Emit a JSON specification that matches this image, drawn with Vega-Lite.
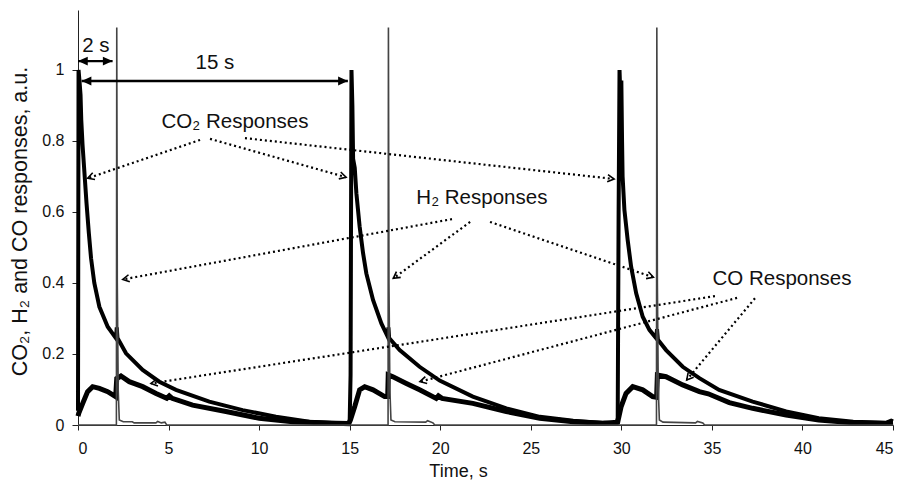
{
  "$schema": "https://vega.github.io/schema/vega-lite/v6.json",
  "width": 815,
  "height": 415,
  "autosize": {"type": "none"},
  "padding": {"left": 78, "top": 10, "right": 9, "bottom": 56},
  "background": "white",
  "config": {
    "view": {"stroke": null},
    "font": "Liberation Sans",
    "axis": {
      "grid": false,
      "domainColor": "#222",
      "tickColor": "#222",
      "labelColor": "#111",
      "titleColor": "#111",
      "labelFont": "Liberation Sans",
      "titleFont": "Liberation Sans",
      "labelFontSize": 16,
      "titleFontWeight": "normal"
    },
    "axisX": {"tickSize": 5, "labelPadding": 10, "titleFontSize": 18, "titleX": 380, "titleY": 51, "titleBaseline": "alphabetic", "titleAlign": "center", "titleAnchor": null},
    "axisY": {"tickSize": 6, "labelPadding": 8, "titleFontSize": 21.5, "titleX": -58, "titleY": 211, "titleAngle": -90, "titleBaseline": "middle", "titleAlign": "center", "titleAnchor": null}
  },
  "datasets": {
    "co2": [
      {"t": 0.0, "v": 0.04}, {"t": 0.03, "v": 1.0}, {"t": 0.08, "v": 0.97}, {"t": 0.14, "v": 0.93},
      {"t": 0.18, "v": 0.86}, {"t": 0.25, "v": 0.79}, {"t": 0.33, "v": 0.73}, {"t": 0.47, "v": 0.625},
      {"t": 0.6, "v": 0.54}, {"t": 0.72, "v": 0.47}, {"t": 0.9, "v": 0.4}, {"t": 1.18, "v": 0.333},
      {"t": 1.64, "v": 0.277}, {"t": 2.1, "v": 0.244}, {"t": 2.14, "v": 0.275}, {"t": 2.18, "v": 0.245},
      {"t": 2.65, "v": 0.202}, {"t": 3.57, "v": 0.155}, {"t": 4.49, "v": 0.122}, {"t": 5.41, "v": 0.099},
      {"t": 7.25, "v": 0.066}, {"t": 9.09, "v": 0.042}, {"t": 10.93, "v": 0.023}, {"t": 12.77, "v": 0.009},
      {"t": 14.25, "v": 0.005}, {"t": 14.95, "v": 0.004},
      {"t": 15.0, "v": 0.01}, {"t": 15.05, "v": 0.14}, {"t": 15.1, "v": 1.0}, {"t": 15.15, "v": 0.9},
      {"t": 15.19, "v": 0.75}, {"t": 15.28, "v": 0.725}, {"t": 15.37, "v": 0.653}, {"t": 15.55, "v": 0.559},
      {"t": 15.74, "v": 0.484}, {"t": 15.92, "v": 0.427}, {"t": 16.29, "v": 0.352}, {"t": 16.75, "v": 0.286},
      {"t": 17.1, "v": 0.249}, {"t": 17.14, "v": 0.275}, {"t": 17.18, "v": 0.245}, {"t": 17.76, "v": 0.211},
      {"t": 18.86, "v": 0.164}, {"t": 19.97, "v": 0.125}, {"t": 21.8, "v": 0.08}, {"t": 23.65, "v": 0.047},
      {"t": 25.5, "v": 0.023}, {"t": 27.34, "v": 0.012}, {"t": 29.0, "v": 0.006}, {"t": 29.75, "v": 0.005},
      {"t": 29.8, "v": 0.02}, {"t": 29.85, "v": 0.6}, {"t": 29.9, "v": 1.0}, {"t": 29.95, "v": 0.92},
      {"t": 30.0, "v": 0.97}, {"t": 30.04, "v": 0.8}, {"t": 30.07, "v": 0.7}, {"t": 30.17, "v": 0.606},
      {"t": 30.35, "v": 0.521}, {"t": 30.54, "v": 0.446}, {"t": 30.82, "v": 0.371}, {"t": 31.18, "v": 0.305},
      {"t": 31.55, "v": 0.268}, {"t": 31.93, "v": 0.244}, {"t": 31.97, "v": 0.27}, {"t": 32.02, "v": 0.24},
      {"t": 32.47, "v": 0.211}, {"t": 33.39, "v": 0.164}, {"t": 34.31, "v": 0.132}, {"t": 35.4, "v": 0.099},
      {"t": 37.25, "v": 0.066}, {"t": 39.1, "v": 0.038}, {"t": 40.9, "v": 0.019}, {"t": 42.8, "v": 0.009},
      {"t": 44.6, "v": 0.006}, {"t": 44.9, "v": 0.012}, {"t": 45.0, "v": 0.01}
    ],
    "co": [
      {"t": 0.0, "v": 0.025}, {"t": 0.04, "v": 0.033}, {"t": 0.26, "v": 0.061}, {"t": 0.53, "v": 0.094},
      {"t": 0.81, "v": 0.108}, {"t": 1.18, "v": 0.103}, {"t": 1.64, "v": 0.094}, {"t": 2.08, "v": 0.08},
      {"t": 2.14, "v": 0.131}, {"t": 2.37, "v": 0.138}, {"t": 2.83, "v": 0.122}, {"t": 3.57, "v": 0.108},
      {"t": 4.31, "v": 0.089}, {"t": 4.9, "v": 0.075}, {"t": 5.04, "v": 0.082}, {"t": 5.2, "v": 0.075},
      {"t": 6.33, "v": 0.056}, {"t": 8.17, "v": 0.038}, {"t": 10.01, "v": 0.019}, {"t": 11.85, "v": 0.009},
      {"t": 14.25, "v": 0.005}, {"t": 14.95, "v": 0.004},
      {"t": 15.04, "v": 0.014}, {"t": 15.28, "v": 0.052}, {"t": 15.55, "v": 0.099}, {"t": 15.83, "v": 0.108},
      {"t": 16.29, "v": 0.099}, {"t": 16.93, "v": 0.08}, {"t": 17.1, "v": 0.08}, {"t": 17.13, "v": 0.141},
      {"t": 17.39, "v": 0.136}, {"t": 18.13, "v": 0.117}, {"t": 18.86, "v": 0.099}, {"t": 19.78, "v": 0.075},
      {"t": 19.9, "v": 0.082}, {"t": 20.1, "v": 0.075}, {"t": 21.8, "v": 0.061}, {"t": 23.65, "v": 0.038},
      {"t": 25.5, "v": 0.019}, {"t": 27.34, "v": 0.009}, {"t": 29.0, "v": 0.005}, {"t": 29.8, "v": 0.008},
      {"t": 29.99, "v": 0.052}, {"t": 30.26, "v": 0.089}, {"t": 30.63, "v": 0.108}, {"t": 31.18, "v": 0.099},
      {"t": 31.73, "v": 0.08}, {"t": 31.95, "v": 0.078}, {"t": 31.99, "v": 0.141}, {"t": 32.47, "v": 0.136},
      {"t": 33.39, "v": 0.113}, {"t": 34.31, "v": 0.094}, {"t": 34.8, "v": 0.088}, {"t": 35.96, "v": 0.063},
      {"t": 37.25, "v": 0.047}, {"t": 39.1, "v": 0.028}, {"t": 40.9, "v": 0.014}, {"t": 42.8, "v": 0.006},
      {"t": 44.6, "v": 0.004}, {"t": 45.0, "v": 0.006}
    ],
    "h2": [
      {"t": 0.0, "v": 0.0}, {"t": 2.12, "v": 0.0}, {"t": 2.14, "v": 1.12}, {"t": 2.17, "v": 0.4},
      {"t": 2.22, "v": 0.1}, {"t": 2.28, "v": 0.014}, {"t": 2.5, "v": 0.009}, {"t": 3.0, "v": 0.009},
      {"t": 3.1, "v": 0.006}, {"t": 4.3, "v": 0.006}, {"t": 4.4, "v": 0.01}, {"t": 4.6, "v": 0.006},
      {"t": 4.8, "v": 0.008}, {"t": 4.9, "v": 0.0},
      {"t": 17.12, "v": 0.0}, {"t": 17.14, "v": 1.12}, {"t": 17.17, "v": 0.4}, {"t": 17.22, "v": 0.1},
      {"t": 17.28, "v": 0.014}, {"t": 17.5, "v": 0.009}, {"t": 19.2, "v": 0.008}, {"t": 19.3, "v": 0.012},
      {"t": 19.6, "v": 0.006}, {"t": 19.7, "v": 0.0},
      {"t": 31.94, "v": 0.0}, {"t": 31.96, "v": 1.12}, {"t": 31.99, "v": 0.4}, {"t": 32.04, "v": 0.1},
      {"t": 32.1, "v": 0.014}, {"t": 32.3, "v": 0.008}, {"t": 34.1, "v": 0.006}, {"t": 34.2, "v": 0.01},
      {"t": 34.5, "v": 0.006}, {"t": 34.6, "v": 0.0}, {"t": 45.0, "v": 0.0}
    ],
    "pointers": [
      {"t0": 6.74, "v0": 0.803, "t1": 0.535, "v1": 0.695},
      {"t0": 7.29, "v0": 0.806, "t1": 14.8, "v1": 0.698},
      {"t0": 9.22, "v0": 0.808, "t1": 29.6, "v1": 0.693},
      {"t0": 20.65, "v0": 0.58, "t1": 2.47, "v1": 0.41},
      {"t0": 21.65, "v0": 0.572, "t1": 17.41, "v1": 0.413},
      {"t0": 22.75, "v0": 0.572, "t1": 31.77, "v1": 0.416},
      {"t0": 35.17, "v0": 0.363, "t1": 4.03, "v1": 0.117},
      {"t0": 36.39, "v0": 0.358, "t1": 18.88, "v1": 0.122},
      {"t0": 37.38, "v0": 0.357, "t1": 33.61, "v1": 0.127}
    ],
    "spans": [
      {"t0": 0.0, "v0": 1.025, "t1": 1.91, "v1": 1.025},
      {"t0": 0.2, "v0": 0.969, "t1": 14.9, "v1": 0.969}
    ],
    "labels": [
      {"t": 8.67, "v": 0.854, "label": "CO₂ Responses"},
      {"t": 22.3, "v": 0.639, "label": "H₂ Responses"},
      {"t": 38.87, "v": 0.411, "label": "CO Responses"},
      {"t": 0.99, "v": 1.068, "label": "2 s"},
      {"t": 7.56, "v": 1.02, "label": "15 s"}
    ]
  },
  "layer": [
    {
      "data": {"name": "co2"},
      "mark": {"type": "line", "color": "black", "strokeWidth": 4},
      "encoding": {
        "x": {"field": "t", "type": "quantitative", "title": "Time, s", "scale": {"domain": [0, 45], "nice": false}, "axis": {"values": [0, 5, 10, 15, 20, 25, 30, 35, 40, 45]}},
        "y": {"field": "v", "type": "quantitative", "title": "CO₂, H₂ and CO responses, a.u.", "scale": {"domain": [0, 1.169], "nice": false}, "axis": {"values": [0, 0.2, 0.4, 0.6, 0.8, 1], "format": "~g"}}
      }
    },
    {
      "data": {"name": "co"},
      "mark": {"type": "line", "color": "black", "strokeWidth": 5},
      "encoding": {
        "x": {"field": "t", "type": "quantitative", "title": "Time, s"},
        "y": {"field": "v", "type": "quantitative", "title": "CO₂, H₂ and CO responses, a.u."}
      }
    },
    {
      "data": {"name": "h2"},
      "mark": {"type": "line", "color": "#444", "strokeWidth": 1.6},
      "encoding": {
        "x": {"field": "t", "type": "quantitative", "title": "Time, s"},
        "y": {"field": "v", "type": "quantitative", "title": "CO₂, H₂ and CO responses, a.u."}
      }
    },
    {
      "data": {"name": "pointers"},
      "mark": {"type": "rule", "color": "black", "strokeWidth": 2.2, "strokeDash": [2, 3]},
      "encoding": {
        "x": {"field": "t0", "type": "quantitative", "title": "Time, s"},
        "y": {"field": "v0", "type": "quantitative", "title": "CO₂, H₂ and CO responses, a.u."},
        "x2": {"field": "t1"},
        "y2": {"field": "v1"}
      }
    },
    {
      "data": {"name": "pointers"},
      "mark": {"type": "point", "shape": "M-1,-0.55L0,0L-1,0.55", "filled": false, "color": "black", "strokeWidth": 1.6, "opacity": 1, "size": 170,
        "angle": {"expr": "(atan2(scale('y', datum.v1) - scale('y', datum.v0), scale('x', datum.t1) - scale('x', datum.t0)) * 180 / PI + 360) % 360"}},
      "encoding": {
        "x": {"field": "t1", "type": "quantitative", "title": "Time, s"},
        "y": {"field": "v1", "type": "quantitative", "title": "CO₂, H₂ and CO responses, a.u."}
      }
    },
    {
      "data": {"name": "spans"},
      "mark": {"type": "rule", "color": "black", "strokeWidth": 2.4},
      "encoding": {
        "x": {"field": "t0", "type": "quantitative", "title": "Time, s"},
        "y": {"field": "v0", "type": "quantitative", "title": "CO₂, H₂ and CO responses, a.u."},
        "x2": {"field": "t1"},
        "y2": {"field": "v1"}
      }
    },
    {
      "data": {"name": "spans"},
      "mark": {"type": "point", "shape": "M-1,-0.45L0,0L-1,0.45Z", "filled": true, "color": "black", "opacity": 1, "size": 380,
        "angle": {"expr": "(atan2(scale('y', datum.v1) - scale('y', datum.v0), scale('x', datum.t1) - scale('x', datum.t0)) * 180 / PI + 360) % 360"}},
      "encoding": {
        "x": {"field": "t1", "type": "quantitative", "title": "Time, s"},
        "y": {"field": "v1", "type": "quantitative", "title": "CO₂, H₂ and CO responses, a.u."}
      }
    },
    {
      "data": {"name": "spans"},
      "mark": {"type": "point", "shape": "M-1,-0.45L0,0L-1,0.45Z", "filled": true, "color": "black", "opacity": 1, "size": 380,
        "angle": {"expr": "(atan2(scale('y', datum.v0) - scale('y', datum.v1), scale('x', datum.t0) - scale('x', datum.t1)) * 180 / PI + 360) % 360"}},
      "encoding": {
        "x": {"field": "t0", "type": "quantitative", "title": "Time, s"},
        "y": {"field": "v0", "type": "quantitative", "title": "CO₂, H₂ and CO responses, a.u."}
      }
    },
    {
      "data": {"name": "labels"},
      "mark": {"type": "text", "font": "Liberation Sans", "fontSize": 20.5, "color": "#111", "align": "center", "baseline": "middle"},
      "encoding": {
        "x": {"field": "t", "type": "quantitative", "title": "Time, s"},
        "y": {"field": "v", "type": "quantitative", "title": "CO₂, H₂ and CO responses, a.u."},
        "text": {"field": "label"}
      }
    }
  ]
}
